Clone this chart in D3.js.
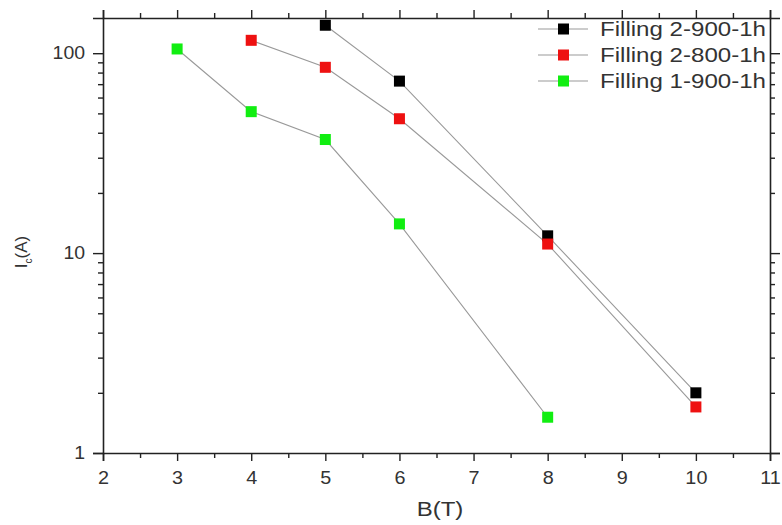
<!DOCTYPE html>
<html>
<head>
<meta charset="utf-8">
<script src="https://cdn.jsdelivr.net/npm/d3@7"></script>
<style>
  body { margin: 0; background: #fff; }
  svg { display: block; font-family: "Liberation Sans", Arial, sans-serif; }
</style>
</head>
<body>
<svg id="chart" width="782" height="525"></svg>
<script>
// Critical current vs field for three filling conditions
const seriesNames = ["Filling 2-900-1h", "Filling 2-800-1h", "Filling 1-900-1h"];
const seriesColors = ["#000000", "#ee1111", "#11ee11"];
const fieldA = [5, 6, 8, 10];
const currentA = [138, 72.5, 12.2, 2.0];
const fieldB = [4, 5, 6, 8, 10];
const currentB = [116, 85, 47, 11.1, 1.7];
const fieldC = [3, 4, 5, 6, 8];
const currentC = [105, 51, 37, 14, 1.51];
const xTicks = [2, 3, 4, 5, 6, 7, 8, 9, 10, 11];
const yTicks = [1, 10, 100];

const series = [
  { name: seriesNames[0], color: seriesColors[0], x: fieldA, y: currentA },
  { name: seriesNames[1], color: seriesColors[1], x: fieldB, y: currentB },
  { name: seriesNames[2], color: seriesColors[2], x: fieldC, y: currentC }
];

const svg = d3.select("#chart");
const L = 103, R = 770, T = 18, B = 453;

const x = d3.scaleLinear().domain([2, 11]).range([L, R]);
const y = d3.scaleLog().domain([1, 150]).range([B, T]);

const axisColor = "#222";
const textColor = "#333";

// minor ticks
const xMinor = d3.range(2.5, 11, 1);
const yMinor = [];
for (let d = 1; d <= 100; d *= 10) {
  for (let k = 2; k <= 9; k++) if (d * k <= 150) yMinor.push(d * k);
}

function widen(sel, factor) {
  sel.each(function () {
    const w = this.getComputedTextLength();
    d3.select(this).attr("textLength", w * factor).attr("lengthAdjust", "spacingAndGlyphs");
  });
}

function styleAxis(g) {
  g.select(".domain").attr("stroke", axisColor).attr("stroke-width", 1.6);
  g.selectAll(".tick line").attr("stroke", axisColor).attr("stroke-width", 1.4);
  g.selectAll(".tick text").attr("fill", textColor).style("font-size", "18px");
}

function minorTicks(g) {
  g.select(".domain").remove();
  g.selectAll("line").attr("stroke", axisColor).attr("stroke-width", 1.4);
}

// bottom axis
const gB = svg.append("g").attr("transform", `translate(0,${B})`)
  .call(d3.axisBottom(x).tickValues(xTicks).tickFormat(d3.format("d")).tickSize(8).tickPadding(10));
styleAxis(gB);
widen(gB.selectAll(".tick text"), 1.1);
svg.append("g").attr("transform", `translate(0,${B})`)
  .call(d3.axisBottom(x).tickValues(xMinor).tickFormat("").tickSize(5))
  .call(minorTicks);

// top axis
const gT = svg.append("g").attr("transform", `translate(0,${T})`)
  .call(d3.axisTop(x).tickValues(xTicks).tickFormat("").tickSize(8));
styleAxis(gT);
svg.append("g").attr("transform", `translate(0,${T})`)
  .call(d3.axisTop(x).tickValues(xMinor).tickFormat("").tickSize(5))
  .call(minorTicks);

// left axis
const gL = svg.append("g").attr("transform", `translate(${L},0)`)
  .call(d3.axisLeft(y).tickValues(yTicks).tickFormat(d3.format("d")).tickSize(10).tickPadding(8));
styleAxis(gL);
widen(gL.selectAll(".tick text"), 1.08);
svg.append("g").attr("transform", `translate(${L},0)`)
  .call(d3.axisLeft(y).tickValues(yMinor).tickFormat("").tickSize(5))
  .call(minorTicks);

// right axis
const gR = svg.append("g").attr("transform", `translate(${R},0)`)
  .call(d3.axisRight(y).tickValues(yTicks).tickFormat("").tickSize(10));
styleAxis(gR);
svg.append("g").attr("transform", `translate(${R},0)`)
  .call(d3.axisRight(y).tickValues(yMinor).tickFormat("").tickSize(5))
  .call(minorTicks);

// axis titles
const xt = svg.append("text")
  .attr("x", 440).attr("y", 516)
  .attr("text-anchor", "middle")
  .attr("fill", textColor).style("font-size", "20px")
  .text("B(T)");
widen(xt, 1.2);

const yl = svg.append("text")
  .attr("transform", `translate(27,252) rotate(-90)`)
  .attr("text-anchor", "middle")
  .attr("fill", textColor).style("font-size", "17px");
yl.append("tspan").text("I");
yl.append("tspan").attr("dy", 5).style("font-size", "10px").text("c");
yl.append("tspan").attr("dy", -5).text("(A)");

// connecting lines and markers
const line = d3.line().x(d => x(d[0])).y(d => y(d[1]));
const plot = svg.append("g");
series.forEach(s => {
  const pts = s.x.map((v, i) => [v, s.y[i]]);
  plot.append("path")
    .attr("d", line(pts))
    .attr("fill", "none")
    .attr("stroke", "#999")
    .attr("stroke-width", 1.1);
});
series.forEach(s => {
  const pts = s.x.map((v, i) => [v, s.y[i]]);
  plot.selectAll(null).data(pts).enter().append("rect")
    .attr("x", d => x(d[0]) - 5.5).attr("y", d => y(d[1]) - 5.5)
    .attr("width", 11).attr("height", 11)
    .attr("fill", s.color);
});

// legend
const legend = svg.append("g");
const rowY = [29, 55, 81];
series.forEach((s, i) => {
  const g = legend.append("g").attr("transform", `translate(0,${rowY[i]})`);
  g.append("line").attr("x1", 538).attr("x2", 588).attr("y1", 0).attr("y2", 0)
    .attr("stroke", "#999").attr("stroke-width", 1.1);
  g.append("rect").attr("x", 558).attr("y", -5.5).attr("width", 11).attr("height", 11)
    .attr("fill", s.color);
  g.append("text").attr("x", 600).attr("y", 0).attr("dy", "0.36em")
    .attr("fill", textColor).style("font-size", "20px")
    .attr("textLength", 166).attr("lengthAdjust", "spacingAndGlyphs")
    .text(s.name);
});
</script>
</body>
</html>
